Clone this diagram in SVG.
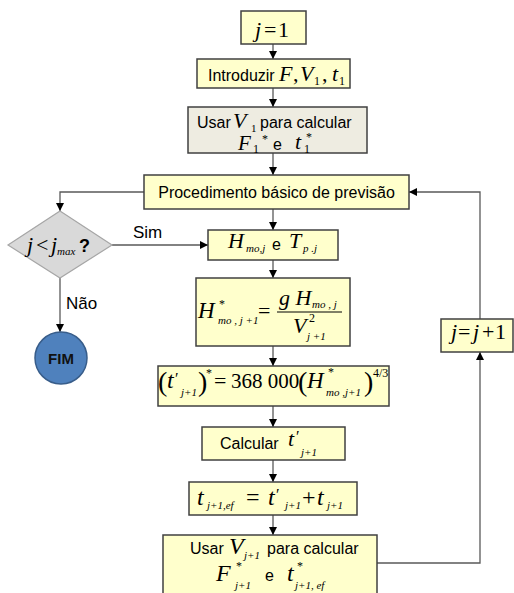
<svg xmlns="http://www.w3.org/2000/svg" width="514" height="593" viewBox="0 0 514 593">
<defs>
<marker id="ah" viewBox="0 0 10 10" refX="10" refY="5" markerWidth="8" markerHeight="8" markerUnits="userSpaceOnUse" orient="auto"><path d="M0,0 L10,5 L0,10 z" fill="#000"/></marker>
<style>
.box{fill:#FFFFCC;stroke:#404040;stroke-width:1.5}
.box2{fill:#EEECE1;stroke:#404040;stroke-width:1.5}
.dia{fill:#D9D9D9;stroke:#A6A6A6;stroke-width:1.2}
.fim{fill:#4F81BD;stroke:#385D8A;stroke-width:1.5}
.con{fill:none;stroke:#595959;stroke-width:1.3}
.arr{marker-end:url(#ah)}
.s{font-family:"Liberation Sans",Arial,sans-serif;font-size:16px;fill:#000}
.m{font-family:"Liberation Serif","Times New Roman",serif;font-style:italic;font-size:22px;fill:#000}
.r{font-family:"Liberation Serif","Times New Roman",serif;font-style:normal;font-size:22px;fill:#000}
.sb{font-family:"Liberation Serif","Times New Roman",serif;font-style:italic;font-size:11px;fill:#000}
.sn{font-family:"Liberation Serif","Times New Roman",serif;font-style:normal;font-size:12px;fill:#000}
</style>
</defs>
<g id="connectors">
<line class="con arr" x1="273" y1="44" x2="273" y2="59"/>
<line class="con arr" x1="273" y1="88" x2="273" y2="107"/>
<line class="con arr" x1="273" y1="153" x2="273" y2="175"/>
<line class="con arr" x1="273" y1="209" x2="273" y2="230"/>
<line class="con arr" x1="273" y1="260" x2="273" y2="278"/>
<line class="con arr" x1="273" y1="346" x2="273" y2="366"/>
<line class="con arr" x1="273" y1="406" x2="273" y2="427"/>
<line class="con arr" x1="273" y1="460" x2="273" y2="482"/>
<line class="con arr" x1="273" y1="515" x2="273" y2="535"/>
<polyline class="con arr" points="144,192 60,192 60,211"/>
<line class="con arr" x1="112" y1="245" x2="208" y2="245"/>
<line class="con arr" x1="60" y1="278" x2="60" y2="332"/>
<polyline class="con arr" points="377,563 480,563 480,352"/>
<polyline class="con arr" points="480,319 480,192 409,192"/>
<text class="s" x="133" y="238" style="font-size:17px">Sim</text>
<text class="s" x="66" y="309" style="font-size:17px">Não</text>
</g>
<g id="n1">
<rect class="box" x="241" y="11" width="65" height="33"/>
<text class="m" x="255" y="37">j</text>
<text class="r" x="264" y="37">=</text>
<text class="r" x="278" y="37">1</text>
</g>
<g id="n2">
<rect class="box" x="197" y="59" width="153" height="29"/>
<text class="s" x="208" y="81">Introduzir</text>
<text class="m" x="279" y="81">F</text>
<text class="r" x="293" y="81">,</text>
<text class="m" x="300" y="81">V</text>
<text class="sn" x="314" y="85">1</text>
<text class="r" x="322" y="81">,</text>
<text class="m" x="332" y="81">t</text>
<text class="sn" x="339" y="85">1</text>
</g>
<g id="n3">
<rect class="box2" x="188" y="107" width="179" height="46"/>
<text class="s" x="197" y="128">Usar</text>
<text class="m" x="233" y="128">V</text>
<text class="sn" x="251" y="132" style="font-size:11px">1</text>
<text class="s" x="260" y="128">para calcular</text>
<text class="m" x="238" y="150" style="font-size:21px">F</text>
<text class="sn" x="262" y="143">*</text>
<text class="sn" x="253" y="153">1</text>
<text class="s" x="273" y="150">e</text>
<text class="m" x="295" y="149">t</text>
<text class="sn" x="306" y="141">*</text>
<text class="sn" x="304" y="153">1</text>
</g>
<g id="n4">
<rect class="box" x="144" y="175" width="265" height="34"/>
<text class="s" x="276.5" y="198" text-anchor="middle">Procedimento básico de previsão</text>
</g>
<g id="n5">
<polygon class="dia" points="60,211 112,245 60,278 8,245"/>
<text class="m" x="27" y="252">j</text>
<text class="r" x="36" y="252">&lt;</text>
<text class="m" x="51" y="252">j</text>
<text class="sb" x="57" y="255">max</text>
<text class="s" x="79" y="252" style="font-weight:bold;font-size:18px">?</text>
</g>
<g id="n6">
<rect class="box" x="208" y="230" width="130" height="30"/>
<text class="m" x="228" y="248">H</text>
<text class="sb" x="246" y="252">mo,j</text>
<text class="s" x="272" y="250">e</text>
<text class="m" x="289" y="248">T</text>
<text class="sb" x="303" y="252">p .j</text>
</g>
<g id="n7">
<rect class="box" x="196" y="278" width="154" height="68"/>
<text class="m" x="198" y="318" style="font-size:23px">H</text>
<text class="sn" x="219" y="308">*</text>
<text class="sb" x="218" y="324">mo , j +1</text>
<text class="r" x="258" y="318">=</text>
<line x1="277" y1="312" x2="342" y2="312" stroke="#000" stroke-width="1"/>
<text class="m" x="279" y="305">g H</text>
<text class="sb" x="312" y="308">mo , j</text>
<text class="m" x="293" y="333">V</text>
<text class="sn" x="309" y="322">2</text>
<text class="sb" x="307" y="340">j +1</text>
</g>
<g id="n8">
<rect class="box" x="158" y="366" width="231" height="40"/>
<text class="r" x="158" y="391" style="font-size:28px">(</text>
<text class="m" x="167" y="388" style="font-size:24px">t</text>
<text class="r" x="175" y="384" style="font-size:16px">′</text>
<text class="sb" x="181" y="396">j+1</text>
<text class="r" x="198" y="391" style="font-size:28px">)</text>
<text class="sn" x="206" y="377">*</text>
<text class="r" x="214" y="388" style="font-size:22px">=</text>
<text class="r" x="231" y="388" style="font-size:21px">368 000</text>
<text class="r" x="298" y="391" style="font-size:28px">(</text>
<text class="m" x="307" y="388" style="font-size:23px">H</text>
<text class="sn" x="328" y="376">*</text>
<text class="sb" x="326" y="396">mo ,j+1</text>
<text class="r" x="364" y="391" style="font-size:28px">)</text>
<text class="sn" x="373" y="377">4/3</text>
</g>
<g id="n9">
<rect class="box" x="202" y="427" width="143" height="33"/>
<text class="s" x="220" y="449">Calcular</text>
<text class="m" x="288" y="446">t</text>
<text class="r" x="296" y="442" style="font-size:16px">′</text>
<text class="sb" x="301" y="456">j+1</text>
</g>
<g id="n10">
<rect class="box" x="189" y="482" width="168" height="33"/>
<text class="m" x="197" y="505" style="font-size:24px">t</text>
<text class="sb" x="207" y="509">j+1,ef</text>
<text class="r" x="246" y="505" style="font-size:24px">=</text>
<text class="m" x="268" y="505" style="font-size:24px">t</text>
<text class="r" x="276" y="500" style="font-size:16px">′</text>
<text class="sb" x="285" y="509">j+1</text>
<text class="r" x="302" y="505" style="font-size:24px">+</text>
<text class="m" x="317" y="505" style="font-size:24px">t</text>
<text class="sb" x="327" y="509">j+1</text>
</g>
<g id="n11">
<rect class="box" x="163" y="535" width="214" height="65"/>
<text class="s" x="190" y="554">Usar</text>
<text class="m" x="229" y="554" style="font-size:24px">V</text>
<text class="sb" x="244" y="559">j+1</text>
<text class="s" x="267" y="554">para calcular</text>
<text class="m" x="216" y="581" style="font-size:24px">F</text>
<text class="sn" x="236" y="570">*</text>
<text class="sb" x="235" y="589">j+1</text>
<text class="s" x="265" y="581">e</text>
<text class="m" x="287" y="581" style="font-size:24px">t</text>
<text class="sn" x="297" y="570">*</text>
<text class="sb" x="295" y="589">j+1, ef</text>
</g>
<g id="n12">
<rect class="box" x="441" y="319" width="72" height="33"/>
<text class="m" x="451" y="339">j</text>
<text class="r" x="458" y="339">=</text>
<text class="m" x="473" y="339">j</text>
<text class="r" x="482" y="339">+</text>
<text class="r" x="495" y="339">1</text>
</g>
<g id="n13">
<circle class="fim" cx="61" cy="358" r="26"/>
<text class="s" x="61" y="364" text-anchor="middle" style="font-weight:bold;font-size:15px;fill:#111">FIM</text>
</g>
</svg>
